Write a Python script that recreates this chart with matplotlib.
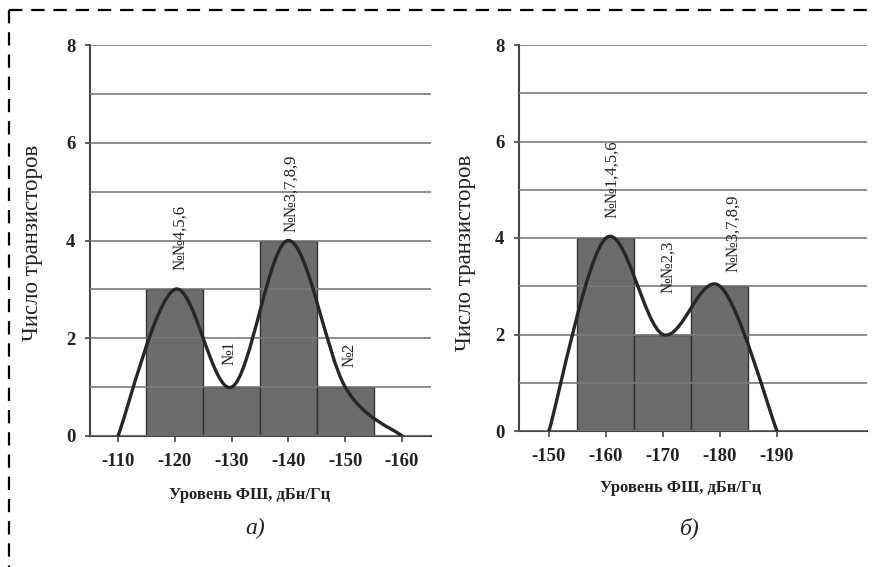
import matplotlib
matplotlib.use("Agg")
import matplotlib.pyplot as plt
from matplotlib.path import Path
from matplotlib.patches import PathPatch
from matplotlib.lines import Line2D
import numpy as np

plt.rcParams['axes.unicode_minus'] = False

# ---------------- data ----------------
# panel a)
a_centers = [-120, -130, -140, -150]
a_counts = [3, 1, 4, 1]
a_curve_x = [-110, -120, -130, -140, -150, -160]
a_curve_y = [0, 3, 1, 4, 1, 0]
a_labels = ['№№4,5,6', '№1', '№№3,7,8,9', '№2']
a_label_x = [-120.9, -129.7, -140.5, -150.8]
a_label_y = [3.39, 1.45, 4.17, 1.41]
a_xticks = [-110, -120, -130, -140, -150, -160]

# panel б)
b_centers = [-160, -170, -180]
b_counts = [4, 2, 3]
b_curve_x = [-150, -160, -170, -180, -190]
b_curve_y = [0, 4, 2, 3, 0]
b_labels = ['№№1,4,5,6', '№№2,3', '№№3,7,8,9']
b_label_x = [-161.05, -170.9, -182.3]
b_label_y = [4.41, 2.86, 3.30]
b_xticks = [-150, -160, -170, -180, -190]

y_major = [0, 2, 4, 6, 8]
y_minor = [1, 3, 5, 7]

ylabel_text = 'Число транзисторов'
xlabel_text = 'Уровень ФШ, дБн/Гц'

SERIF = ['Liberation Serif', 'DejaVu Serif']

BAR_C = '#6c6c6c'
EDGE_C = '#333333'
GRID_C = '#7a7a7a'
CURVE_C = '#262626'
TXT_C = '#222222'

W, H = 873, 567
fig = plt.figure(figsize=(W / 100, H / 100), dpi=100)
fig.patch.set_facecolor('white')


def smooth_path(xs, ys):
    pts = np.column_stack([xs, ys]).astype(float)
    n = len(pts)
    verts = [pts[0]]
    codes = [Path.MOVETO]
    for i in range(n - 1):
        p0 = pts[i - 1] if i > 0 else pts[i]
        p1 = pts[i]
        p2 = pts[i + 1]
        p3 = pts[i + 2] if i + 2 < n else pts[i + 1]
        c1 = p1 + (p2 - p0) / 6.0
        c2 = p2 - (p3 - p1) / 6.0
        verts += [c1, c2, p2]
        codes += [Path.CURVE4] * 3
    return Path(verts, codes)


def make_panel(rect, xlim, centers, counts, cx, cy, labels, lx, ly, xticks,
               ylab_coords, xlab_coords):
    ax = fig.add_axes(rect)
    ax.set_xlim(*xlim)
    ax.set_ylim(0, 8)
    ax.bar(centers, counts, width=10, color=BAR_C, edgecolor=EDGE_C,
           linewidth=1.0, zorder=1)
    ax.set_yticks(y_major)
    ax.set_yticks(y_minor, minor=True)
    ax.set_xticks(xticks)
    ax.set_xticklabels([str(v) for v in xticks])
    ax.set_yticklabels([str(v) for v in y_major])
    ax.grid(True, axis='y', which='both', color=GRID_C, linewidth=1.2,
            zorder=2)
    ax.set_axisbelow(False)
    for s in ['top', 'right']:
        ax.spines[s].set_visible(False)
    for s in ['left', 'bottom']:
        ax.spines[s].set_color('#444444')
        ax.spines[s].set_linewidth(1.5)
    ax.tick_params(axis='y', which='major', direction='out', length=3.5,
                   width=1.2, color='#444444', pad=7)
    ax.tick_params(axis='y', which='minor', length=0)
    ax.tick_params(axis='x', which='major', direction='out', length=4,
                   width=1.2, color='#444444', pad=8.5)
    for t in ax.get_xticklabels() + ax.get_yticklabels():
        t.set_family(SERIF)
        t.set_fontweight('bold')
        t.set_fontsize(13.5)
        t.set_color(TXT_C)
    patch = PathPatch(smooth_path(cx, cy), facecolor='none',
                      edgecolor=CURVE_C, linewidth=2.4, zorder=3,
                      capstyle='round', joinstyle='round')
    ax.add_patch(patch)
    for t, x, y in zip(labels, lx, ly):
        ax.text(x, y, t, rotation=90, ha='center', va='bottom',
                family=SERIF, fontsize=12, color=TXT_C, zorder=4)
    ax.set_ylabel(ylabel_text, family=SERIF, fontsize=16.5, color=TXT_C,
                  va='center')
    ax.yaxis.set_label_coords(*ylab_coords)
    ax.set_xlabel(xlabel_text, family=SERIF, fontsize=12,
                  fontweight='bold', color=TXT_C, va='center')
    ax.xaxis.set_label_coords(*xlab_coords)
    return ax


ax1 = make_panel([90 / W, 1 - 436 / H, 341 / W, 391 / H], (-105.07, -165.1),
                 a_centers, a_counts, a_curve_x, a_curve_y,
                 a_labels, a_label_x, a_label_y, a_xticks,
                 ((33 - 90) / 341, (436 - 243) / 391),
                 ((250 - 90) / 341, (436 - 495) / 391))

ax2 = make_panel([519 / W, 1 - 431 / H, 348 / W, 386 / H], (-144.74, -205.79),
                 b_centers, b_counts, b_curve_x, b_curve_y,
                 b_labels, b_label_x, b_label_y, b_xticks,
                 ((465 - 519) / 348, (431 - 253) / 386),
                 ((681 - 519) / 348, (431 - 488) / 386))

fig.text(255 / W, 1 - 528 / H, 'а)', family=SERIF, style='italic',
         fontsize=17, ha='center', va='center', color=TXT_C)
fig.text(690 / W, 1 - 528 / H, 'б)', family=SERIF, style='italic',
         fontsize=17, ha='center', va='center', color=TXT_C)

# dashed frame
fig.add_artist(Line2D([9 / W, 9 / W], [1 - 10 / H, 0], transform=fig.transFigure,
                      color='black', linewidth=1.6, dashes=(6, 4)))
fig.add_artist(Line2D([9 / W, 1], [1 - 10 / H, 1 - 10 / H],
                      transform=fig.transFigure, color='black',
                      linewidth=1.6, dashes=(6, 4)))

fig.savefig('out.png', dpi=100)
